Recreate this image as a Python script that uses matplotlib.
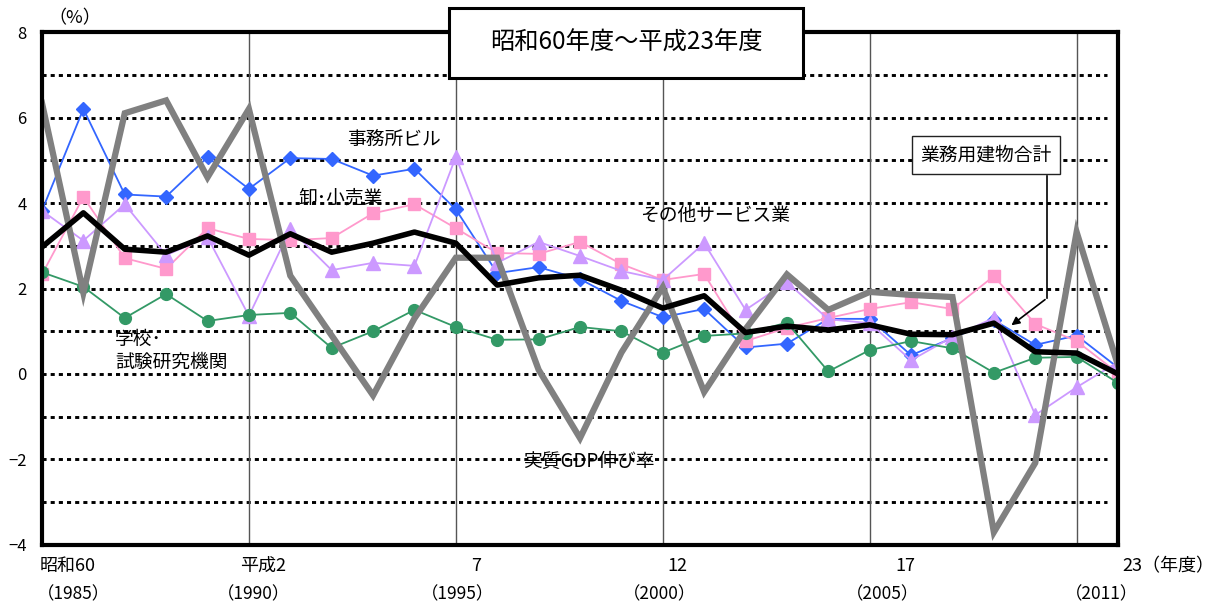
import matplotlib
matplotlib.use("Agg")
import matplotlib.pyplot as plt
from matplotlib.patches import Rectangle

plt.rcParams['font.family'] = ['Noto Sans CJK JP', 'DejaVu Sans']

# fiscal years 1985 (昭和60) .. 2011 (平成23)
years = list(range(1985, 2012))

office = [3.82, 6.2, 4.2, 4.15, 5.07, 4.33, 5.05, 5.03, 4.64, 4.8, 3.85, 2.36, 2.5, 2.22,
          1.71, 1.33, 1.52, 0.62, 0.71, 1.29, 1.29, 0.44, 0.84, 1.26, 0.68, 0.9, 0.15]
retail = [2.33, 4.14, 2.71, 2.46, 3.41, 3.16, 3.13, 3.18, 3.76, 3.97, 3.41, 2.83, 2.81, 3.09,
          2.57, 2.2, 2.34, 0.77, 1.08, 1.31, 1.52, 1.68, 1.52, 2.29, 1.17, 0.77, 0.02]
service = [3.82, 3.12, 3.97, 2.78, 3.2, 1.36, 3.39, 2.43, 2.6, 2.53, 5.08, 2.6, 3.09, 2.76,
           2.41, 2.2, 3.06, 1.5, 2.15, 1.28, 1.19, 0.32, 0.87, 1.31, -0.96, -0.31, 0.28]
school = [2.38, 2.04, 1.31, 1.87, 1.24, 1.38, 1.43, 0.61, 1.0, 1.5, 1.1, 0.8, 0.81, 1.1,
          1.0, 0.5, 0.89, 0.95, 1.2, 0.06, 0.56, 0.77, 0.6, 0.03, 0.38, 0.4, -0.21]
total = [2.97, 3.77, 2.92, 2.85, 3.23, 2.78, 3.28, 2.85, 3.06, 3.32, 3.06, 2.08, 2.25, 2.31,
         1.96, 1.54, 1.83, 0.97, 1.12, 1.03, 1.15, 0.93, 0.92, 1.19, 0.52, 0.49, 0.0]
gdp = [6.34, 1.9, 6.1, 6.4, 4.6, 6.2, 2.3, 0.9, -0.5, 1.3, 2.72, 2.72, 0.1, -1.5,
       0.5, 2.03, -0.42, 1.05, 2.33, 1.5, 1.92, 1.85, 1.8, -3.7, -2.08, 3.32, 0.2]

xlab_top = ['昭和60', '平成2', '7', '12', '17']
xlab_top_pos = [0.63, 5.34, 10.5, 15.35, 20.86]
xlab_bot = ['（1985）', '（1990）', '（1995）', '（2000）', '（2005）', '（2011）']
xlab_bot_pos = [0.75, 5.1, 10.05, 14.93, 20.3, 25.6]
vlines = [5, 10, 15, 20, 25]

x = list(range(len(years)))

fig = plt.figure(figsize=(12.13, 6.04), dpi=100)
ax = fig.add_axes([0.0346, 0.0977, 0.8871, 0.8493])

# grid
for v in range(-3, 8):
    ax.axhline(v, xmin=0.0, xmax=0.99, color='black', lw=2.1,
               linestyle=(0, (1.4, 1.4)), zorder=1)
for v in vlines:
    ax.axvline(v, color='#555555', lw=1.0, zorder=1)

ax.plot(x, office, color='#3366FF', lw=1.3, marker='D', ms=7.5, zorder=3)
ax.plot(x, retail, color='#FF99CC', lw=1.3, marker='s', ms=8.5, zorder=4)
ax.plot(x, service, color='#CC99FF', lw=1.3, marker='^', ms=10, zorder=5)
ax.plot(x, school, color='#339966', lw=1.3, marker='o', ms=8.5, zorder=6)
ax.plot(x, gdp, color='#808080', lw=4.5, zorder=7, solid_joinstyle='miter')
ax.plot(x, total, color='black', lw=4, zorder=8)

ax.set_xlim(0, 26)
ax.set_ylim(-4, 8)
ax.set_yticks(range(-4, 9, 2))
ax.set_yticklabels(['−4', '−2', '0', '2', '4', '6', '8'])
ax.set_xticks([])
ax.tick_params(axis='y', length=0, pad=11, labelsize=12)
for s in ax.spines.values():
    s.set_linewidth(3)
    s.set_zorder(10)

tr = ax.get_xaxis_transform()
for lab, p in zip(xlab_top, xlab_top_pos):
    ax.text(p, -0.041, lab, transform=tr, ha='center', va='center', fontsize=13)
ax.text(26.1, -0.041, '23（年度）', transform=tr, ha='left', va='center', fontsize=13)
for lab, p in zip(xlab_bot, xlab_bot_pos):
    ax.text(p, -0.0955, lab, transform=tr, ha='center', va='center', fontsize=12.5)

fig.text(0.062, 0.97, '（%）', ha='center', va='center', fontsize=13)

# series labels
lab_kw = dict(ha='left', va='center', fontsize=13.5, zorder=12)
ax.text(7.37, 5.47, '事務所ビル', **lab_kw)
ax.text(6.19, 4.12, '卸･小売業', **lab_kw)
ax.text(14.45, 3.72, 'その他サービス業', **lab_kw)
ax.text(1.76, 0.54, '学校･\n試験研究機関', linespacing=1.15, **lab_kw)
ax.text(11.62, -2.04, '実質GDP伸び率', **lab_kw)

# total label with leader arrow
ax.text(22.81, 5.12, '業務用建物合計', ha='center', va='center', fontsize=13.5, zorder=12,
        bbox=dict(boxstyle='square,pad=0.45', fc='white', ec='#222222', lw=1))
ax.plot([24.29, 24.29], [4.63, 1.78], color='black', lw=1.2, zorder=12)
ax.annotate('', xy=(23.37, 1.1), xytext=(24.29, 1.78),
            arrowprops=dict(arrowstyle='-|>', color='black', lw=1.2, mutation_scale=12),
            zorder=12)

# title box
fig.patches.append(Rectangle((0.370, 0.8709), 0.2918, 0.1159, transform=fig.transFigure,
                             fc='white', ec='black', lw=2.2, zorder=20))
fig.text(0.516, 0.929, '昭和60年度～平成23年度', ha='center', va='center',
         fontsize=17.5, zorder=21)

fig.savefig('out.png', dpi=100)
